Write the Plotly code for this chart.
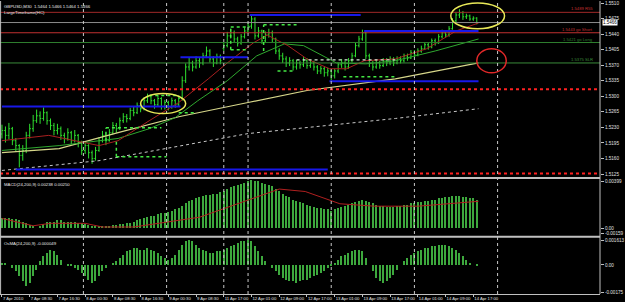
import plotly.graph_objects as go

# ---------------- data (GBPUSD M30, one value per 2 bars) ----------------
bar_index = list(range(0, 276, 2))
first_open = 1.5215
sunday_gap_pos = 64          # position in arrays of the 11 Apr 17:00 open
sunday_open = 1.5408

closes = [
    1.5223, 1.5212, 1.5227, 1.5200, 1.5189, 1.5167, 1.5178, 1.5212, 1.5227, 1.5245,
    1.5256, 1.5250, 1.5263, 1.5245, 1.5234, 1.5223, 1.5227, 1.5212, 1.5205, 1.5218,
    1.5200, 1.5212, 1.5196, 1.5178, 1.5189, 1.5173, 1.5160, 1.5178, 1.5200, 1.5212,
    1.5200, 1.5218, 1.5234, 1.5227, 1.5245, 1.5254, 1.5250, 1.5268, 1.5263, 1.5279,
    1.5272, 1.5290, 1.5299, 1.5290, 1.5281, 1.5295, 1.5277, 1.5286, 1.5277, 1.5290,
    1.5281, 1.5295, 1.5335, 1.5366, 1.5375, 1.5366, 1.5380, 1.5375, 1.5391, 1.5402,
    1.5384, 1.5375, 1.5389, 1.5380, 1.5414, 1.5436, 1.5443, 1.5429, 1.5420, 1.5434,
    1.5447, 1.5458, 1.5474, 1.5436, 1.5447, 1.5425, 1.5438, 1.5443, 1.5429, 1.5402,
    1.5391, 1.5384, 1.5375, 1.5380, 1.5366, 1.5375, 1.5371, 1.5380, 1.5369, 1.5375,
    1.5366, 1.5357, 1.5362, 1.5353, 1.5357, 1.5346, 1.5357, 1.5371, 1.5375, 1.5366,
    1.5380, 1.5391, 1.5414, 1.5429, 1.5443, 1.5391, 1.5375, 1.5366, 1.5375, 1.5369,
    1.5380, 1.5375, 1.5384, 1.5375, 1.5384, 1.5380, 1.5391, 1.5386, 1.5398, 1.5393,
    1.5402, 1.5407, 1.5416, 1.5411, 1.5425, 1.5420, 1.5434, 1.5443, 1.5438, 1.5452,
    1.5470, 1.5483, 1.5488, 1.5479, 1.5481, 1.5474, 1.5476, 1.5466]

highs = [
    1.5236, 1.5232, 1.5240, 1.5231, 1.5206, 1.5192, 1.5190, 1.5220, 1.5238, 1.5258,
    1.5270, 1.5266, 1.5275, 1.5266, 1.5250, 1.5240, 1.5238, 1.5232, 1.5218, 1.5228,
    1.5222, 1.5224, 1.5215, 1.5200, 1.5198, 1.5192, 1.5178, 1.5186, 1.5208, 1.5222,
    1.5216, 1.5226, 1.5242, 1.5240, 1.5252, 1.5262, 1.5260, 1.5274, 1.5276, 1.5286,
    1.5284, 1.5298, 1.5306, 1.5304, 1.5294, 1.5302, 1.5298, 1.5292, 1.5290, 1.5297,
    1.5294, 1.5302, 1.5345, 1.5374, 1.5388, 1.5380, 1.5390, 1.5386, 1.5398, 1.5412,
    1.5406, 1.5390, 1.5396, 1.5394, 1.5422, 1.5445, 1.5452, 1.5448, 1.5434, 1.5440,
    1.5455, 1.5466, 1.5484, 1.5478, 1.5456, 1.5450, 1.5446, 1.5452, 1.5448, 1.5432,
    1.5408, 1.5398, 1.5390, 1.5388, 1.5384, 1.5382, 1.5380, 1.5388, 1.5386, 1.5382,
    1.5380, 1.5370, 1.5368, 1.5366, 1.5364, 1.5360, 1.5362, 1.5376, 1.5384, 1.5380,
    1.5386, 1.5398, 1.5420, 1.5436, 1.5450, 1.5446, 1.5396, 1.5380, 1.5382, 1.5380,
    1.5386, 1.5386, 1.5390, 1.5388, 1.5390, 1.5390, 1.5396, 1.5396, 1.5404, 1.5404,
    1.5408, 1.5414, 1.5422, 1.5420, 1.5430, 1.5430, 1.5440, 1.5450, 1.5448, 1.5458,
    1.5476, 1.5490, 1.5496, 1.5492, 1.5486, 1.5484, 1.5480, 1.5478]

lows = [
    1.5205, 1.5196, 1.5203, 1.5190, 1.5176, 1.5140, 1.5155, 1.5172, 1.5205, 1.5220,
    1.5240, 1.5238, 1.5245, 1.5236, 1.5224, 1.5212, 1.5214, 1.5202, 1.5194, 1.5200,
    1.5192, 1.5196, 1.5185, 1.5168, 1.5170, 1.5160, 1.5148, 1.5155, 1.5175, 1.5196,
    1.5190, 1.5198, 1.5214, 1.5218, 1.5224, 1.5240, 1.5241, 1.5246, 1.5255, 1.5260,
    1.5264, 1.5268, 1.5285, 1.5282, 1.5272, 1.5276, 1.5270, 1.5270, 1.5268, 1.5272,
    1.5274, 1.5278, 1.5290, 1.5330, 1.5358, 1.5356, 1.5362, 1.5364, 1.5370, 1.5386,
    1.5376, 1.5366, 1.5372, 1.5372, 1.5402, 1.5410, 1.5430, 1.5420, 1.5412, 1.5416,
    1.5430, 1.5442, 1.5452, 1.5428, 1.5432, 1.5418, 1.5420, 1.5432, 1.5422, 1.5395,
    1.5382, 1.5375, 1.5366, 1.5368, 1.5358, 1.5360, 1.5362, 1.5366, 1.5362, 1.5364,
    1.5358, 1.5350, 1.5350, 1.5344, 1.5345, 1.5335, 1.5340, 1.5352, 1.5364, 1.5358,
    1.5362, 1.5376, 1.5388, 1.5410, 1.5425, 1.5384, 1.5366, 1.5358, 1.5362, 1.5362,
    1.5366, 1.5368, 1.5370, 1.5368, 1.5372, 1.5374, 1.5376, 1.5380, 1.5384, 1.5388,
    1.5390, 1.5398, 1.5404, 1.5405, 1.5408, 1.5414, 1.5418, 1.5430, 1.5432, 1.5434,
    1.5450, 1.5466, 1.5476, 1.5472, 1.5474, 1.5470, 1.5470, 1.5462]

# moving averages (read at a few bars)
ma_fast_bars = [0, 27, 56, 67, 85, 102, 119, 130, 145, 153, 165, 176, 189, 199, 209, 227, 245, 262, 275]
ma_fast_vals = [1.5200, 1.5212, 1.5189, 1.5200, 1.5245, 1.5286, 1.5339, 1.5375, 1.5420, 1.5438,
                1.5414, 1.5384, 1.5362, 1.5362, 1.5380, 1.5384, 1.5407, 1.5447, 1.5465]
ma_mid_bars = [0, 33, 67, 85, 100, 113, 130, 147, 163, 174, 193, 210, 227, 250, 275]
ma_mid_vals = [1.5178, 1.5189, 1.5205, 1.5227, 1.5252, 1.5290, 1.5335, 1.5391, 1.5418, 1.5414,
               1.5375, 1.5373, 1.5380, 1.5402, 1.5429]
ma_slow_bars = [0, 33, 67, 102, 142, 176, 227, 275]
ma_slow_vals = [1.5173, 1.5182, 1.5218, 1.5254, 1.5286, 1.5313, 1.5339, 1.5375]
ma_long_bars = [0, 56, 142, 227, 275]
ma_long_vals = [1.5133, 1.5155, 1.5216, 1.5250, 1.5272]

# MACD(24,200,9) histogram and signal
macd_hist = [
    0.0008, 0.0008, 0.0008, 0.0007, 0.0007, 0.0006, 0.0005, 0.0004, 0.0002, 0.0001,
    0.0000, 0.0001, 0.0003, 0.0005, 0.0005, 0.0005, 0.0006, 0.0006, 0.0005, 0.0005,
    0.0005, 0.0005, 0.0004, 0.0004, 0.0003, 0.0002, 0.0001, 0.0001, 0.0001, 0.0001,
    0.0001, 0.0001, 0.0002, 0.0002, 0.0003, 0.0003, 0.0004, 0.0004, 0.0005, 0.0006,
    0.0007, 0.0008, 0.0009, 0.0010, 0.0010, 0.0011, 0.0012, 0.0012, 0.0013, 0.0014,
    0.0015, 0.0016, 0.0018, 0.0020, 0.0022, 0.0023, 0.0024, 0.0025, 0.0026, 0.0027,
    0.0027, 0.0028, 0.0028, 0.0029, 0.0030, 0.0032, 0.0033, 0.0034, 0.0035, 0.0036,
    0.0037, 0.0038, 0.0039, 0.0038, 0.0038, 0.0037, 0.0036, 0.0035, 0.0034, 0.0032,
    0.0030, 0.0028, 0.0026, 0.0025, 0.0023, 0.0022, 0.0021, 0.0020, 0.0019, 0.0018,
    0.0017, 0.0016, 0.0016, 0.0015, 0.0015, 0.0014, 0.0015, 0.0016, 0.0017, 0.0018,
    0.0019, 0.0020, 0.0021, 0.0022, 0.0023, 0.0022, 0.0021, 0.0020, 0.0019, 0.0018,
    0.0018, 0.0017, 0.0017, 0.0017, 0.0018, 0.0018, 0.0019, 0.0019, 0.0020, 0.0020,
    0.0021, 0.0021, 0.0022, 0.0022, 0.0023, 0.0023, 0.0024, 0.0024, 0.0025, 0.0025,
    0.0026, 0.0026, 0.0026, 0.0025, 0.0025, 0.0024, 0.0024, 0.0023]
signal_bars = [0, 18, 28, 48, 58, 76, 114, 140, 160, 175, 195, 215, 240, 275]
signal_vals = [0.0008, 0.0002, 0.0004, 0.0004, 0.0001, 0.0001, 0.0009, 0.0022, 0.0032, 0.0030,
               0.0020, 0.0018, 0.0018, 0.0022]

# OsMA(24,200,9)
osma = [
    0.0001, 0.0001, 0.0000, -0.0002, -0.0004, -0.0007, -0.0010, -0.0013, -0.0011, -0.0007,
    -0.0003, 0.0002, 0.0005, 0.0007, 0.0009, 0.0008, 0.0006, 0.0003, 0.0000, -0.0001,
    -0.0001, -0.0002, -0.0003, -0.0005, -0.0007, -0.0009, -0.0011, -0.0010, -0.0007, -0.0004,
    -0.0002, 0.0000, 0.0001, 0.0002, 0.0004, 0.0006, 0.0008, 0.0009, 0.0010, 0.0010,
    0.0009, 0.0009, 0.0010, 0.0009, 0.0008, 0.0007, 0.0005, 0.0004, 0.0003, 0.0004,
    0.0006, 0.0009, 0.0012, 0.0014, 0.0015, 0.0014, 0.0012, 0.0010, 0.0009, 0.0008,
    0.0007, 0.0007, 0.0008, 0.0008, 0.0009, 0.0010, 0.0011, 0.0012, 0.0013, 0.0014,
    0.0014, 0.0015, 0.0014, 0.0011, 0.0008, 0.0005, 0.0002, 0.0000, -0.0002, -0.0004,
    -0.0006, -0.0008, -0.0009, -0.0010, -0.0010, -0.0011, -0.0010, -0.0009, -0.0009, -0.0008,
    -0.0007, -0.0006, -0.0005, -0.0004, -0.0002, -0.0001, 0.0001, 0.0003, 0.0005, 0.0006,
    0.0007, 0.0008, 0.0009, 0.0009, 0.0008, 0.0004, 0.0000, -0.0004, -0.0008, -0.0010,
    -0.0011, -0.0010, -0.0008, -0.0006, -0.0003, 0.0000, 0.0002, 0.0004, 0.0006, 0.0007,
    0.0008, 0.0009, 0.0010, 0.0010, 0.0011, 0.0011, 0.0012, 0.0012, 0.0012, 0.0011,
    0.0010, 0.0009, 0.0007, 0.0005, 0.0003, 0.0001, 0.0000, -0.00005]

# horizontal trade levels
level_prices = [1.5489, 1.5443, 1.5421, 1.5375]
level_names = ["R55", "go Short", "go Long", "SLR"]
level_colors = ["#a02828", "#c03030", "#2f7f2f", "#3a8a3a"]
bid_price = 1.5466
red_dotted_levels = [1.5316, 1.5126]

# blue support/resistance segments (start bar, end bar, price)
blue_start = [143, 209, 103, 189, 0, 8]
blue_end = [207, 275, 142, 275, 103, 188]
blue_price = [1.5483, 1.5447, 1.5388, 1.5334, 1.5277, 1.5135]

# dotted large-timeframe boxes
box_start = [85, 102, 60, 66, 132, 132, 151, 159, 197]
box_end = [101, 112, 92, 95, 143, 142, 170, 169, 227]
box_price = [1.5302, 1.5263, 1.5229, 1.5164, 1.5456, 1.5405, 1.5461, 1.5357, 1.5344]
box_vbar = [60, 66, 132, 151]
box_vlo = [1.5200, 1.5164, 1.5405, 1.5402]
box_vhi = [1.5229, 1.5200, 1.5456, 1.5461]
pale_start, pale_end, pale_price = 170, 227, 1.5382

# day separators (bar index)
day_starts = [47, 95, 128, 142, 190, 238, 286]

# axis labels
price_ticks = [1.5510, 1.5475, 1.5440, 1.5405, 1.5370, 1.5335, 1.5300, 1.5265, 1.5230, 1.5195, 1.5160, 1.5125]
time_tick_bars = list(range(0, 273, 16))
time_labels = ["7 Apr 2010", "7 Apr 08:30", "7 Apr 16:30", "8 Apr 00:30", "8 Apr 08:30", "8 Apr 16:30",
               "9 Apr 00:30", "9 Apr 08:30", "11 Apr 17:00", "12 Apr 01:00", "12 Apr 09:00",
               "12 Apr 17:00", "13 Apr 01:00", "13 Apr 09:00", "13 Apr 17:00", "14 Apr 01:00",
               "14 Apr 09:00", "14 Apr 17:00"]

# marked areas (bar range, price range)
yellow_marks = [(80, 106, 1.5261, 1.5306), (259, 290, 1.5452, 1.5510)]
red_marks = [(274, 291, 1.5353, 1.5407)]

# ---------------- build ----------------
opens = [first_open] + closes[:-1]
opens[sunday_gap_pos] = sunday_open
hi = [max(h, o, c) for h, o, c in zip(highs, opens, closes)]
lo = [min(l, o, c) for l, o, c in zip(lows, opens, closes)]

GREEN = "#2fe02f"
FONT = "Liberation Sans"
PH = 294.0  # plot height in px


def py(px):
    return 1 - px / PH


fig = go.Figure()
fig.add_trace(go.Ohlc(x=bar_index, open=opens, high=hi, low=lo, close=closes,
                      increasing=dict(line=dict(color=GREEN, width=1)),
                      decreasing=dict(line=dict(color=GREEN, width=1)),
                      tickwidth=0.35, xaxis="x", yaxis="y", hoverinfo="skip"))
fig.add_trace(go.Scatter(x=ma_long_bars, y=ma_long_vals, mode="lines",
                         line=dict(color="#c8c8c8", width=1, dash="dot"), xaxis="x", yaxis="y"))
fig.add_trace(go.Scatter(x=ma_slow_bars, y=ma_slow_vals, mode="lines",
                         line=dict(color="#d6d68a", width=1.2), xaxis="x", yaxis="y"))
fig.add_trace(go.Scatter(x=ma_mid_bars, y=ma_mid_vals, mode="lines",
                         line=dict(color="#2fa82f", width=1), xaxis="x", yaxis="y"))
fig.add_trace(go.Scatter(x=ma_fast_bars, y=ma_fast_vals, mode="lines",
                         line=dict(color="#a82020", width=1), xaxis="x", yaxis="y"))

fig.add_trace(go.Bar(x=bar_index, y=macd_hist, width=0.75, marker=dict(color="#3da83d", line=dict(width=0)),
                     xaxis="x", yaxis="y2"))
fig.add_trace(go.Scatter(x=signal_bars, y=signal_vals, mode="lines",
                         line=dict(color="#b02020", width=1), xaxis="x", yaxis="y2"))
fig.add_trace(go.Bar(x=bar_index, y=osma, width=0.75, marker=dict(color="#3da83d", line=dict(width=0)),
                     xaxis="x", yaxis="y3"))

shapes = []
# levels
for p, c in zip(level_prices, level_colors):
    shapes.append(dict(type="line", xref="paper", x0=0, x1=1, yref="y", y0=p, y1=p,
                       line=dict(color=c, width=1)))
shapes.append(dict(type="line", xref="paper", x0=0, x1=1, yref="y", y0=bid_price, y1=bid_price,
                   line=dict(color="#8c8c8c", width=1)))
for p in red_dotted_levels:
    shapes.append(dict(type="line", xref="paper", x0=0, x1=1, yref="y", y0=p, y1=p,
                       line=dict(color="#ff2020", width=2, dash="dot")))
for s, e, p in zip(blue_start, blue_end, blue_price):
    shapes.append(dict(type="line", xref="x", x0=s, x1=e, yref="y", y0=p, y1=p,
                       line=dict(color="#1818e8", width=2)))
for s, e, p in zip(box_start, box_end, box_price):
    shapes.append(dict(type="line", xref="x", x0=s, x1=e, yref="y", y0=p, y1=p,
                       line=dict(color="#44e844", width=1.5, dash="dot")))
for b, l, h in zip(box_vbar, box_vlo, box_vhi):
    shapes.append(dict(type="line", xref="x", x0=b, x1=b, yref="y", y0=l, y1=h,
                       line=dict(color="#44e844", width=1.5, dash="dot")))
shapes.append(dict(type="line", xref="x", x0=pale_start, x1=pale_end, yref="y", y0=pale_price, y1=pale_price,
                   line=dict(color="#d8ecd8", width=1.2, dash="dot")))
# day separators
for d in day_starts:
    shapes.append(dict(type="line", xref="x", x0=d, x1=d, yref="paper", y0=0, y1=1,
                       line=dict(color="#c8c8c8", width=1, dash="dot")))
# marks
for x0, x1, y0, y1 in yellow_marks:
    shapes.append(dict(type="circle", xref="x", yref="y", x0=x0, x1=x1, y0=y0, y1=y1,
                       line=dict(color="#e8e858", width=1.5)))
for x0, x1, y0, y1 in red_marks:
    shapes.append(dict(type="circle", xref="x", yref="y", x0=x0, x1=x1, y0=y0, y1=y1,
                       line=dict(color="#e02828", width=1.5)))
# frame: pane separators, left edge
for ypx in (177.5, 236.5):
    shapes.append(dict(type="line", xref="paper", x0=0, x1=1, yref="paper", y0=py(ypx), y1=py(ypx),
                       line=dict(color="#c0c0c0", width=2)))
shapes.append(dict(type="line", xref="paper", x0=0.001, x1=0.001, yref="paper", y0=0, y1=1,
                   line=dict(color="#c0c0c0", width=1)))
shapes.append(dict(type="line", xref="paper", x0=1, x1=1, yref="paper", y0=0, y1=1,
                   line=dict(color="#c0c0c0", width=1)))

annotations = []
annotations.append(dict(xref="paper", yref="paper", x=0.004, y=py(1), xanchor="left", yanchor="top",
                        text="GBPUSD,M30  1.5464 1.5466 1.5464 1.5466", showarrow=False,
                        font=dict(size=4.3, color="#e8e8e8", family=FONT)))
annotations.append(dict(xref="paper", yref="paper", x=0.004, y=py(7), xanchor="left", yanchor="top",
                        text="LargeTimeframe(HC)", showarrow=False,
                        font=dict(size=4.3, color="#e8e8e8", family=FONT)))
annotations.append(dict(xref="paper", yref="paper", x=0.004, y=py(179.5), xanchor="left", yanchor="top",
                        text="MACD(24,200,9) 0.00238 0.00250", showarrow=False,
                        font=dict(size=4.3, color="#e8e8e8", family=FONT)))
annotations.append(dict(xref="paper", yref="paper", x=0.004, y=py(238.5), xanchor="left", yanchor="top",
                        text="OsMA(24,200,9) -0.000049", showarrow=False,
                        font=dict(size=4.3, color="#e8e8e8", family=FONT)))
for p, n, c in zip(level_prices, level_names, level_colors):
    annotations.append(dict(xref="paper", yref="y", x=601 / 606, y=p, xanchor="right", yanchor="bottom",
                            text=f"{p:.4f} {n}", showarrow=False, yshift=-1,
                            font=dict(size=4.2, color=c if c != "#a02828" else "#c03030", family=FONT)))
annotations.append(dict(xref="paper", yref="y", x=1.0, y=bid_price, xanchor="left", yanchor="middle",
                        text=f"{bid_price:.4f}", showarrow=False, xshift=2, bgcolor="#ffffff",
                        borderpad=0, font=dict(size=4.5, color="#000000", family=FONT)))

axis_common = dict(showgrid=False, zeroline=False, showline=False, ticks="outside", ticklen=3,
                   tickcolor="#c0c0c0", tickfont=dict(size=4.6, color="#e0e0e0", family=FONT))

fig.update_layout(
    width=625, height=302, margin=dict(l=0, r=19, t=0, b=8),
    paper_bgcolor="#000000", plot_bgcolor="#000000",
    showlegend=False, barmode="overlay", bargap=0,
    font=dict(family=FONT, color="#e0e0e0"),
    xaxis=dict(domain=[0, 1], range=[-1.14, 345.1], anchor="y3",
               rangeslider=dict(visible=False), tickangle=0,
               tickvals=time_tick_bars, ticktext=time_labels, ticklabelposition="outside right",
               tickfont=dict(size=4.2, color="#e0e0e0", family=FONT), ticks="outside", ticklen=2,
               tickcolor="#c0c0c0", showline=True, linecolor="#c0c0c0", linewidth=1,
               showgrid=False, zeroline=False),
    yaxis=dict(domain=[py(176), 1], range=[1.51196, 1.55145], side="right", anchor="x",
               tickvals=price_ticks, ticktext=[f"{t:.4f}" for t in price_ticks], **axis_common),
    yaxis2=dict(domain=[py(235), py(179)], range=[-0.00057, 0.00399], side="right", anchor="x",
                tickvals=[0.0038, 0.0, -0.00042], ticktext=["0.00399", "0.00", "-0.00159"], **axis_common),
    yaxis3=dict(domain=[0, py(238)], range=[-0.00175, 0.00161], side="right", anchor="x",
                tickvals=[0.0015, 0.0, -0.00165], ticktext=["0.001613", "0.00", "-0.00175"], **axis_common),
    shapes=shapes, annotations=annotations,
)

fig.write_html("out.html")
